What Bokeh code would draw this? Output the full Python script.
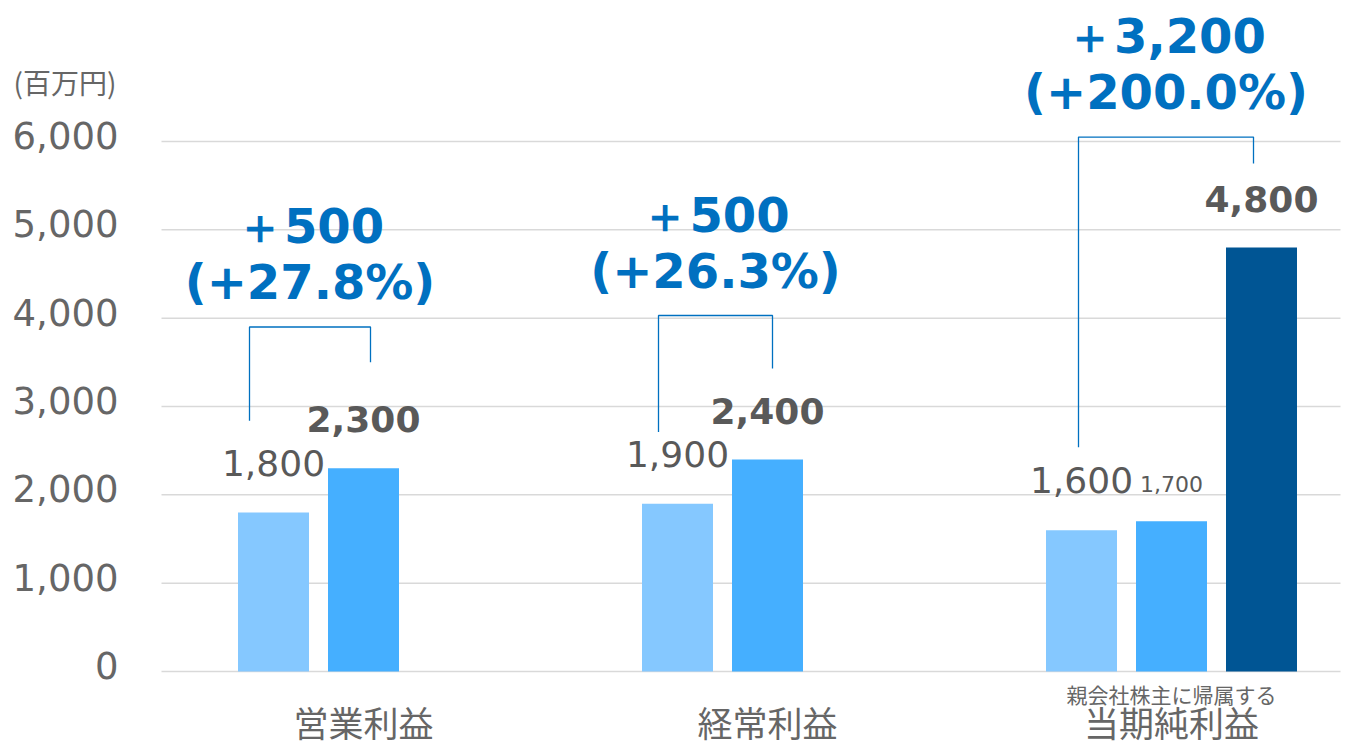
from bokeh.plotting import figure
from bokeh.models import Range1d, ColumnDataSource
from bokeh.core.properties import value
from bokeh.embed import file_html
from bokeh.resources import INLINE

# ---------------- data ----------------
categories = ["営業利益", "経常利益", "当期純利益"]
category_note = "親会社株主に帰属する"
prev_year = [1800, 1900, 1600]
curr_year = [2300, 2400, 1700]
parent_net = [4800]            # only for 当期純利益
change_abs = ["＋500", "＋500", "＋3,200"]
change_pct = ["(+27.8%)", "(+26.3%)", "(+200.0%)"]
y_ticks = [0, 1000, 2000, 3000, 4000, 5000, 6000]
unit_text = "(百万円)"

# bracket geometry (y in data units, x offsets in px)
bracket_top = [3900, 4030, 6050]
bracket_left_end = [2840, 2710, 2540]
bracket_right_end = [3500, 3430, 5750]
bracket_right_slot = [1, 1, 2]
bracket_left_dx = [-24, -19, -3]
bracket_right_dx = [7, 5, -8]

# ---------------- layout ----------------
FIG_W, FIG_H = 1345, 748
PLOT_L, PLOT_R = 161, 1340          # horizontal extent of the plotting area
ZERO_PX = 671                        # from top to value 0
PX_PER_UNIT = 530 / 6000
FIRST_SLOT, GROUP_PITCH, SLOT_PITCH, BAR_W = 112, 404, 90, 71
TICK_GAP = 43

LIGHT, MID, DARK = "#85C8FF", "#45AFFF", "#005594"
BLUE, VALC, AXC, GRID = "#0070C0", "#595959", "#666666", "#D9D9D9"
NUM_FONT = value("DejaVu Sans")
JP_FONT = value("Noto Sans CJK JP")


def slot_x(i, j):
    return FIRST_SLOT + i * GROUP_PITCH + j * SLOT_PITCH


y_end = ZERO_PX / PX_PER_UNIT
y_start = -(FIG_H - ZERO_PX) / PX_PER_UNIT

p = figure(width=FIG_W, height=FIG_H, x_range=Range1d(-PLOT_L, FIG_W - PLOT_L),
           y_range=Range1d(y_start, y_end), output_backend="svg",
           toolbar_location=None, x_axis_location=None, y_axis_location=None,
           min_border_left=0, min_border_right=0,
           min_border_top=0, min_border_bottom=0)
p.outline_line_color = None
p.background_fill_color = "white"
p.grid.grid_line_color = None

n = len(categories)
plot_w = PLOT_R - PLOT_L

# value axis: grid lines + tick labels
p.segment(x0=[0] * len(y_ticks), x1=[plot_w] * len(y_ticks), y0=y_ticks, y1=y_ticks,
          line_color=GRID, line_width=1.5)
p.text(x=[-TICK_GAP] * len(y_ticks), y=y_ticks, text=[f"{t:,}" for t in y_ticks],
       text_align="right", text_baseline="middle", y_offset=-6, text_font=NUM_FONT,
       text_font_size="37px", text_color=AXC)
p.text(x=[-PLOT_L + 13], y=[y_ticks[-1]], text=[unit_text], text_align="left",
       text_baseline="middle", y_offset=-60, text_font=JP_FONT,
       text_font_size="28px", text_color=AXC)

# bars
src_prev = ColumnDataSource(dict(x=[slot_x(i, 0) for i in range(n)], top=prev_year,
                                 label=[f"{v:,}" for v in prev_year]))
src_curr = ColumnDataSource(dict(x=[slot_x(i, 1) for i in range(n)], top=curr_year,
                                 label=[f"{v:,}" for v in curr_year]))
src_parent = ColumnDataSource(dict(x=[slot_x(2, 2)], top=parent_net,
                                   label=[f"{v:,}" for v in parent_net]))
p.vbar(x="x", top="top", bottom=0, width=BAR_W, source=src_prev,
       fill_color=LIGHT, line_color=None)
p.vbar(x="x", top="top", bottom=0, width=BAR_W, source=src_curr,
       fill_color=MID, line_color=None)
p.vbar(x="x", top="top", bottom=0, width=BAR_W, source=src_parent,
       fill_color=DARK, line_color=None)

# value labels
p.text(x="x", y="top", text="label", source=src_prev, text_align="center",
       text_baseline="alphabetic", y_offset=-50, text_font=NUM_FONT,
       text_font_size="36px", text_color=VALC)
src_curr_big = ColumnDataSource(dict(x=src_curr.data["x"][:2], top=curr_year[:2],
                                     label=src_curr.data["label"][:2]))
src_curr_small = ColumnDataSource(dict(x=src_curr.data["x"][2:], top=curr_year[2:],
                                       label=src_curr.data["label"][2:]))
p.text(x="x", y="top", text="label", source=src_curr_big, text_align="center",
       text_baseline="alphabetic", y_offset=-49, text_font=NUM_FONT,
       text_font_size="36px", text_font_style="bold", text_color=VALC)
p.text(x="x", y="top", text="label", source=src_curr_small, text_align="center",
       text_baseline="alphabetic", y_offset=-37, text_font=NUM_FONT,
       text_font_size="22px", text_color=VALC)
p.text(x="x", y="top", text="label", source=src_parent, text_align="center",
       text_baseline="alphabetic", y_offset=-49, text_font=NUM_FONT,
       text_font_size="36px", text_font_style="bold", text_color=VALC)

# brackets and change annotations
xs, ys, mids = [], [], []
for i in range(n):
    lx = slot_x(i, 0) + bracket_left_dx[i]
    rx = slot_x(i, bracket_right_slot[i]) + bracket_right_dx[i]
    xs.append([lx, lx, rx, rx])
    ys.append([bracket_left_end[i], bracket_top[i], bracket_top[i], bracket_right_end[i]])
    mids.append((lx + rx) / 2)
p.multi_line(xs=xs, ys=ys, line_color=BLUE, line_width=1.3)

src_ann = ColumnDataSource(dict(x=mids, y=bracket_top, a=change_abs, b=change_pct))
p.text(x="x", y="y", text="b", source=src_ann, text_align="center",
       text_baseline="alphabetic", y_offset=-45, text_font=NUM_FONT,
       text_font_size="48px", text_font_style="bold", text_color=BLUE)
p.text(x="x", y="y", text="a", source=src_ann, text_align="center",
       text_baseline="alphabetic", y_offset=-101, text_font=NUM_FONT,
       text_font_size="48px", text_font_style="bold", text_color=BLUE)

# category labels
src_cat = ColumnDataSource(dict(x=[slot_x(i, 1) for i in range(n)], y=[0] * n, t=categories))
p.text(x="x", y="y", text="t", source=src_cat, text_align="center",
       text_baseline="middle", y_offset=50, text_font=JP_FONT,
       text_font_size="35px", text_color=AXC)
p.text(x=[slot_x(2, 1)], y=[0], text=[category_note], text_align="center",
       text_baseline="middle", y_offset=22, text_font=JP_FONT,
       text_font_size="21px", text_color=AXC)

open("out.html", "w").write(file_html(p, INLINE))
